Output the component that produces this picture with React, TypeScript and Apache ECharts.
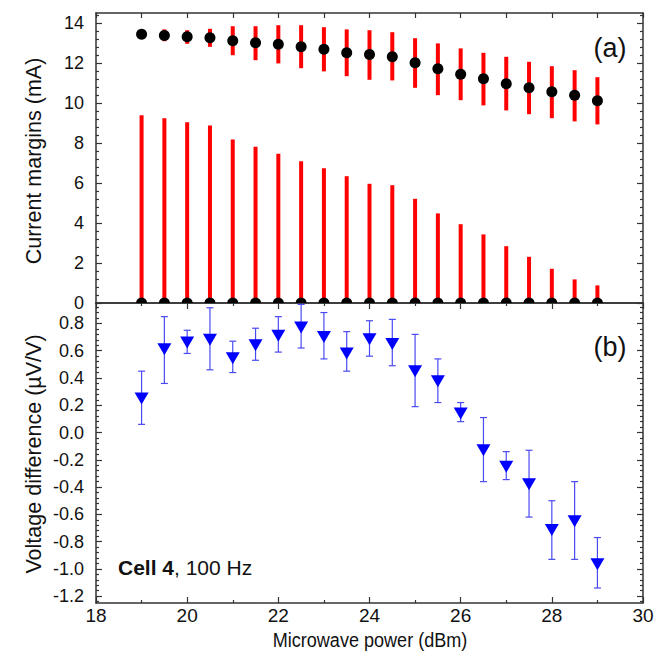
import React, { useEffect, useRef } from "react";
import * as echarts from "echarts";

// Microwave power (dBm)
const power = [19, 19.5, 20, 20.5, 21, 21.5, 22, 22.5, 23, 23.5, 24, 24.5, 25, 25.5, 26, 26.5, 27, 27.5, 28, 28.5, 29];

// (a) upper current margin (mA) and its spread
const upperMargin = [13.44, 13.38, 13.31, 13.26, 13.11, 13.01, 12.94, 12.81, 12.69, 12.51, 12.43, 12.31, 12.01, 11.71, 11.44, 11.21, 10.96, 10.76, 10.56, 10.39, 10.11];
const upperHigh = [13.55, 13.68, 13.64, 13.71, 13.84, 13.84, 13.89, 13.89, 13.79, 13.68, 13.64, 13.54, 13.24, 12.98, 12.73, 12.51, 12.31, 12.06, 11.84, 11.64, 11.29];
const upperLow = [13.35, 13.09, 12.96, 12.81, 12.39, 12.14, 11.98, 11.74, 11.58, 11.34, 11.16, 11.13, 10.76, 10.39, 10.14, 9.88, 9.63, 9.44, 9.24, 9.08, 8.93];

// (a) lower current margin (mA) and its spread (from 0 up to value)
const lowerMargin = [0, 0, 0, 0, 0, 0, 0, 0, 0, 0, 0, 0, 0, 0, 0, 0, 0, 0, 0, 0, 0];
const lowerHigh = [9.39, 9.24, 9.04, 8.88, 8.18, 7.81, 7.46, 7.09, 6.74, 6.34, 5.96, 5.89, 5.21, 4.48, 3.94, 3.43, 2.84, 2.31, 1.71, 1.18, 0.88];

// (b) voltage difference (µV/V) with error bars
const voltage = [0.25, 0.61, 0.66, 0.68, 0.545, 0.64, 0.71, 0.77, 0.7, 0.58, 0.685, 0.65, 0.45, 0.376, 0.14, -0.13, -0.25, -0.38, -0.715, -0.65, -0.965];
const voltageHigh = [0.45, 0.85, 0.75, 0.915, 0.67, 0.765, 0.85, 0.94, 0.88, 0.74, 0.82, 0.83, 0.72, 0.54, 0.22, 0.11, -0.14, -0.13, -0.5, -0.36, -0.77];
const voltageLow = [0.06, 0.36, 0.58, 0.46, 0.44, 0.53, 0.59, 0.62, 0.54, 0.45, 0.56, 0.49, 0.19, 0.22, 0.08, -0.36, -0.345, -0.62, -0.93, -0.93, -1.14];

// tick labels
const topYTicks = [0, 2, 4, 6, 8, 10, 12, 14];
const bottomYTicks = [-1.2, -1.0, -0.8, -0.6, -0.4, -0.2, 0.0, 0.2, 0.4, 0.6, 0.8];
const xTicks = [18, 20, 22, 24, 26, 28, 30];

const FONT = "'Liberation Sans', Arial, Helvetica, sans-serif";
const FRAME = "#333333";
const TEXT = "#111111";

function minorValues(majors: number[], step: number, lo: number, hi: number) {
  const out: number[] = [];
  const n = Math.round((hi - lo) / step);
  for (let i = 0; i <= n; i++) {
    const v = Math.round((lo + i * step) * 1000) / 1000;
    if (v < lo - 1e-9 || v > hi + 1e-9) continue;
    if (majors.some((m) => Math.abs(m - v) < 1e-6)) continue;
    out.push(v);
  }
  return out;
}

export default function App() {
  const ref = useRef<HTMLDivElement>(null);

  useEffect(() => {
    document.body.style.margin = "0";
    if (!ref.current) return;
    const chart = echarts.init(ref.current, undefined, { renderer: "svg" });

    const topMin = 0, topMax = 14.5;
    const botMin = -1.25, botMax = 0.95;
    const topMinor = minorValues(topYTicks, 0.4, 0, 14.4);
    const botMinor = minorValues(bottomYTicks, 0.04, -1.24, 0.92);

    const tickStyle = { color: FRAME, width: 1.2 };
    const lineStyle = { color: FRAME, width: 1.5 };

    const yMajor = (grid: number, pos: string, min: number, max: number, ticks: number[], labels: boolean, fmt?: (v: number) => string) => ({
      type: "value",
      gridIndex: grid,
      position: pos,
      min,
      max,
      splitLine: { show: false },
      axisLine: { show: true, onZero: false, lineStyle },
      axisTick: { show: true, inside: true, length: 6, lineStyle: tickStyle, customValues: ticks },
      axisLabel: labels
        ? { show: true, customValues: ticks, fontSize: 18, fontFamily: FONT, color: TEXT, margin: 12, formatter: fmt }
        : { show: false },
    });
    const yMinor = (grid: number, pos: string, min: number, max: number, ticks: number[]) => ({
      type: "value",
      gridIndex: grid,
      position: pos,
      min,
      max,
      splitLine: { show: false },
      axisLine: { show: false },
      axisTick: { show: true, inside: true, length: 3, lineStyle: tickStyle, customValues: ticks },
      axisLabel: { show: false },
    });

    const xBase = {
      type: "value",
      min: 18,
      max: 30,
      splitLine: { show: false },
    };

    const vbar = (color: string, width: number) => (params: any, api: any) => {
      const a = api.coord([api.value(0), api.value(1)]);
      const b = api.coord([api.value(0), api.value(2)]);
      return {
        type: "line",
        shape: { x1: a[0], y1: a[1], x2: b[0], y2: b[1] },
        style: { stroke: color, lineWidth: width },
      };
    };

    chart.setOption({
      animation: false,
      backgroundColor: "#ffffff",
      grid: [
        { left: 96, right: 27, top: 13, height: 290 },
        { left: 96, right: 27, top: 303, height: 300 },
      ],
      xAxis: [
        {
          ...xBase,
          gridIndex: 0,
          position: "bottom",
          axisLine: { show: true, onZero: false, lineStyle },
          axisTick: { show: false },
          axisLabel: { show: false },
        },
        {
          ...xBase,
          gridIndex: 0,
          position: "top",
          interval: 1,
          axisLine: { show: true, onZero: false, lineStyle },
          axisTick: { show: true, inside: true, length: 5, lineStyle: tickStyle },
          axisLabel: { show: false },
        },
        {
          ...xBase,
          gridIndex: 1,
          position: "bottom",
          interval: 2,
          axisLine: { show: true, onZero: false, lineStyle },
          axisTick: { show: true, inside: true, length: 6, lineStyle: tickStyle, customValues: xTicks },
          minorTick: { show: true, splitNumber: 2, length: 3, lineStyle: tickStyle },
          axisLabel: { show: true, customValues: xTicks, fontSize: 19, fontFamily: FONT, color: TEXT, margin: 3 },
        },
        {
          ...xBase,
          gridIndex: 1,
          position: "top",
          interval: 2,
          axisLine: { show: true, onZero: false, lineStyle },
          axisTick: { show: true, inside: true, length: 6, lineStyle: tickStyle },
          minorTick: { show: true, splitNumber: 2, length: 3, lineStyle: tickStyle },
          axisLabel: { show: false },
        },
      ],
      yAxis: [
        yMajor(0, "left", topMin, topMax, topYTicks, true, (v: number) => String(v)),
        yMinor(0, "left", topMin, topMax, topMinor),
        yMajor(0, "right", topMin, topMax, topYTicks, false),
        yMinor(0, "right", topMin, topMax, topMinor),
        yMajor(1, "left", botMin, botMax, bottomYTicks, true, (v: number) => v.toFixed(1)),
        yMinor(1, "left", botMin, botMax, botMinor),
        yMajor(1, "right", botMin, botMax, bottomYTicks, false),
        yMinor(1, "right", botMin, botMax, botMinor),
      ],
      series: [
        {
          name: "lower margin range",
          type: "custom",
          xAxisIndex: 0,
          yAxisIndex: 0,
          z: 2,
          data: power.map((p, i) => [p, lowerMargin[i], lowerHigh[i]]),
          encode: { x: 0, y: [1, 2] },
          renderItem: vbar("#ff0000", 4),
        },
        {
          name: "upper margin range",
          type: "custom",
          xAxisIndex: 0,
          yAxisIndex: 0,
          z: 2,
          data: power.map((p, i) => [p, upperLow[i], upperHigh[i]]),
          encode: { x: 0, y: [1, 2] },
          renderItem: vbar("#ff0000", 4),
        },
        {
          name: "upper margin",
          type: "scatter",
          xAxisIndex: 0,
          yAxisIndex: 0,
          z: 3,
          symbol: "circle",
          symbolSize: 11,
          itemStyle: { color: "#000000", opacity: 1 },
          data: power.map((p, i) => [p, upperMargin[i]]),
        },
        {
          name: "lower margin",
          type: "custom",
          xAxisIndex: 0,
          yAxisIndex: 0,
          z: 3,
          data: power.map((p, i) => [p, lowerMargin[i]]),
          encode: { x: 0, y: 1 },
          renderItem: (params: any, api: any) => {
            const c = api.coord([api.value(0), api.value(1)]);
            return {
              type: "sector",
              shape: { cx: c[0], cy: c[1], r: 5.5, r0: 0, startAngle: Math.PI, endAngle: 2 * Math.PI, clockwise: true },
              style: { fill: "#000000" },
            };
          },
        },
        {
          name: "voltage error",
          type: "custom",
          xAxisIndex: 2,
          yAxisIndex: 4,
          z: 2,
          data: power.map((p, i) => [p, voltageLow[i], voltageHigh[i]]),
          encode: { x: 0, y: [1, 2] },
          renderItem: (params: any, api: any) => {
            const a = api.coord([api.value(0), api.value(1)]);
            const b = api.coord([api.value(0), api.value(2)]);
            const cap = 3.5;
            const st = { stroke: "#4a4af2", lineWidth: 1.2 };
            return {
              type: "group",
              children: [
                { type: "line", shape: { x1: a[0], y1: a[1], x2: b[0], y2: b[1] }, style: st },
                { type: "line", shape: { x1: a[0] - cap, y1: a[1], x2: a[0] + cap, y2: a[1] }, style: st },
                { type: "line", shape: { x1: b[0] - cap, y1: b[1], x2: b[0] + cap, y2: b[1] }, style: st },
              ],
            };
          },
        },
        {
          name: "voltage difference",
          type: "scatter",
          xAxisIndex: 2,
          yAxisIndex: 4,
          z: 3,
          symbol: "triangle",
          symbolRotate: 180,
          symbolSize: [14, 12],
          itemStyle: { color: "#0000ff", opacity: 1 },
          data: power.map((p, i) => [p, voltage[i]]),
        },
      ],
      graphic: [
        {
          type: "text",
          x: 34,
          y: 161,
          rotation: Math.PI / 2,
          style: { text: "Current margins (mA)", fontSize: 21.5, fontFamily: FONT, fill: TEXT, align: "center", verticalAlign: "middle" },
        },
        {
          type: "text",
          x: 34,
          y: 454,
          rotation: Math.PI / 2,
          style: { text: "Voltage difference (µV/V)", fontSize: 21.5, fontFamily: FONT, fill: TEXT, align: "center", verticalAlign: "middle" },
        },
        {
          type: "text",
          x: 370,
          y: 639,
          scaleX: 0.86,
          style: { text: "Microwave power (dBm)", fontSize: 21, fontFamily: FONT, fill: TEXT, align: "center", verticalAlign: "middle" },
        },
        {
          type: "text",
          x: 610,
          y: 48,
          style: { text: "(a)", fontSize: 27, fontFamily: FONT, fill: TEXT, align: "center", verticalAlign: "middle" },
        },
        {
          type: "text",
          x: 610,
          y: 347,
          style: { text: "(b)", fontSize: 27, fontFamily: FONT, fill: TEXT, align: "center", verticalAlign: "middle" },
        },
        {
          type: "text",
          x: 118,
          y: 567,
          style: {
            text: "{b|Cell 4}, 100 Hz",
            fontSize: 21,
            fontFamily: FONT,
            fill: TEXT,
            align: "left",
            verticalAlign: "middle",
            rich: { b: { fontSize: 21, fontFamily: FONT, fontWeight: "bold", fill: TEXT } },
          },
        },
      ],
    });

    return () => chart.dispose();
  }, []);

  return <div ref={ref} style={{ width: 670, height: 658 }} />;
}
